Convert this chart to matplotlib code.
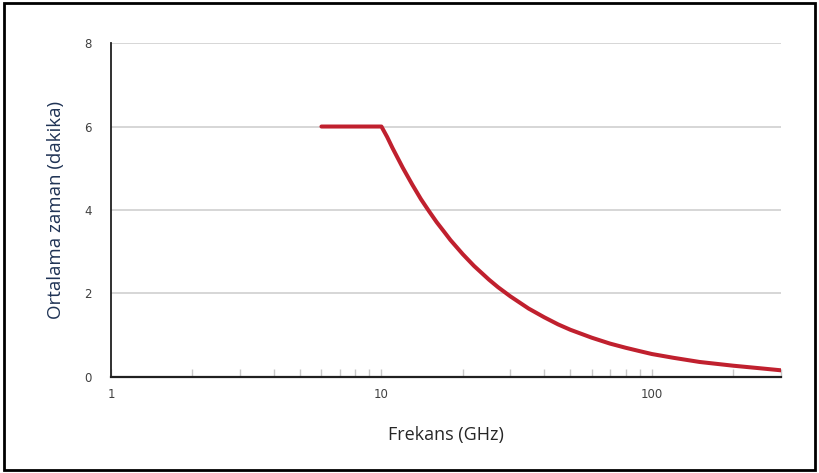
import numpy as np
import matplotlib
matplotlib.use("Agg")
import matplotlib.pyplot as plt
from matplotlib.patches import Rectangle
from matplotlib.ticker import LogLocator, FixedLocator, NullFormatter

# values
freq = [6, 8, 10, 10.5, 11, 11.5, 12, 13, 14, 15, 16, 17, 18, 20, 22, 25, 27, 30, 35, 40, 45, 50, 60,
        70, 80, 90, 100, 120, 150, 200, 250, 300]
avg_time = [6.0, 6.0, 6.0, 5.75, 5.48, 5.24, 5.01, 4.61, 4.26, 3.97, 3.71, 3.49, 3.28, 2.94, 2.66, 2.33,
            2.15, 1.93, 1.64, 1.43, 1.26, 1.13, 0.94, 0.80, 0.70, 0.62, 0.55, 0.46, 0.36, 0.27, 0.21, 0.16]
yticks = [0, 2, 4, 6, 8]
xticks = [1, 10, 100]
xtick_labels = ["1", "10", "100"]

fig = plt.figure(figsize=(8.19, 4.73), dpi=100)
ax = fig.add_axes([0.1355, 0.203, 0.818, 0.706])

ax.plot(freq, avg_time, color="#c0202e", lw=2.9, solid_capstyle="round", solid_joinstyle="round", zorder=3)

ax.set_xscale("log")
ax.set_xlim(1, 300)
ax.set_ylim(0, 8)

ax.xaxis.set_major_locator(FixedLocator(xticks))
ax.set_xticklabels(xtick_labels)
ax.xaxis.set_minor_locator(LogLocator(base=10, subs=np.arange(2, 10)))
ax.xaxis.set_minor_formatter(NullFormatter())
ax.tick_params(axis="x", which="both", direction="in", length=6, width=1, color="#c8c8c8",
               labelsize=8.5, labelcolor="#404040", pad=8)

ax.set_yticks(yticks)
ax.tick_params(axis="y", length=0, labelsize=8.5, labelcolor="#404040", pad=14)
ax.yaxis.grid(True, color="#d0d0d0", lw=1.2)
ax.set_axisbelow(True)

for s in ["top", "right"]:
    ax.spines[s].set_visible(False)
ax.spines["left"].set_color("#202020")
ax.spines["bottom"].set_color("#202020")
ax.spines["left"].set_linewidth(1.3)
ax.spines["bottom"].set_linewidth(1.6)

ax.set_xlabel("Frekans (GHz)", fontsize=13, color="#262626", labelpad=18,
              family=["Liberation Sans Narrow", "Open Sans", "DejaVu Sans"])
ax.set_ylabel("Ortalama zaman (dakika)", fontsize=13.5, color="#1f3355", labelpad=14,
              family=["Open Sans", "DejaVu Sans"])

# frame around the whole picture
fig.patches.append(Rectangle((0.005, 0.006), 0.99, 0.988, transform=fig.transFigure,
                             fill=False, edgecolor="black", lw=2))

fig.savefig("out.png", dpi=100)
